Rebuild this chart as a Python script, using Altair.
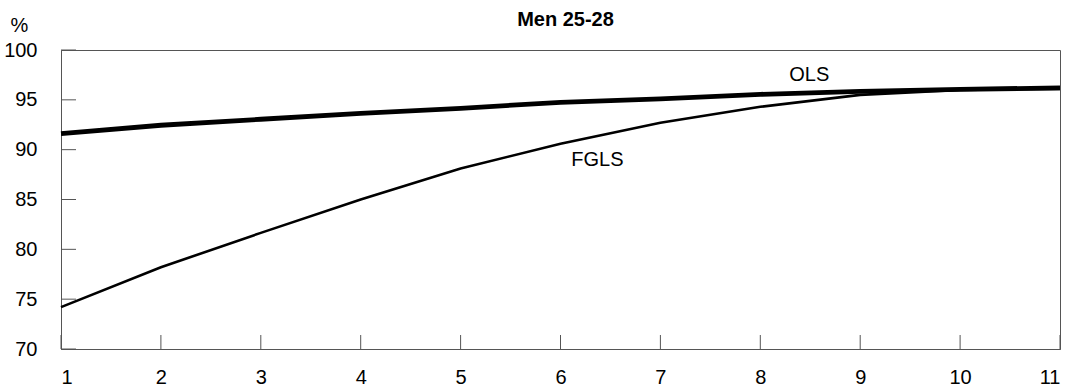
import altair as alt
import pandas as pd

x_vals = [1, 2, 3, 4, 5, 6, 7, 8, 9, 10, 11]
ols = [91.6, 92.45, 93.05, 93.65, 94.15, 94.75, 95.1, 95.55, 95.85, 96.05, 96.2]
fgls = [74.2, 78.2, 81.65, 85.0, 88.1, 90.6, 92.7, 94.3, 95.5, 96.0, 96.1]
y_ticks = [70, 75, 80, 85, 90, 95, 100]
x_ticks = x_vals
labels = ["OLS", "FGLS"]
label_x = [8.49, 6.37]
label_y = [97.5, 89.0]

FONT = "Liberation Sans"
FS = 20
W, H = 999, 299

df = pd.DataFrame({"x": x_vals * 2, "y": ols + fgls,
                   "series": ["OLS"] * len(x_vals) + ["FGLS"] * len(x_vals)})
df_yt = pd.DataFrame({"y": y_ticks})
df_xt = pd.DataFrame({"x": x_ticks})
df_lab = pd.DataFrame({"text": labels, "x": label_x, "y": label_y})

xs = alt.Scale(domain=[1, 11], nice=False, zero=False)
ys = alt.Scale(domain=[70, 100], nice=False, zero=False)

x_axis = alt.Axis(values=x_ticks, format="d", ticks=False, tickSize=0, grid=False,
                  labelFont=FONT, labelFontSize=FS, labelColor="black",
                  labelPadding=18, domainColor="#555", title=None)
y_axis = alt.Axis(values=y_ticks, format="d", ticks=False, tickSize=0, grid=False,
                  labelFont=FONT, labelFontSize=FS, labelColor="black",
                  labelPadding=24, domainColor="#555",
                  title="%", titleAngle=0, titleFont=FONT, titleFontSize=FS,
                  titleFontWeight="normal", titleColor="black",
                  titleX=-42, titleY=-25, titleAlign="center", titleBaseline="middle")

fgls_line = alt.Chart(df[df.series == "FGLS"]).mark_line(
    color="black", strokeWidth=2.6).encode(
    x=alt.X("x:Q", scale=xs, axis=x_axis),
    y=alt.Y("y:Q", scale=ys, axis=y_axis))

ols_line = alt.Chart(df[df.series == "OLS"]).mark_line(
    color="black", strokeWidth=4.8).encode(
    x=alt.X("x:Q", scale=xs),
    y=alt.Y("y:Q", scale=ys))

ytick = alt.Chart(df_yt).mark_rule(color="#555", strokeWidth=1).encode(
    y=alt.Y("y:Q", scale=ys), x=alt.value(0), x2=alt.value(15))

xtick = alt.Chart(df_xt).mark_rule(color="#555", strokeWidth=1).encode(
    x=alt.X("x:Q", scale=xs), y=alt.value(H), y2=alt.value(H - 14))

text = alt.Chart(df_lab).mark_text(font=FONT, fontSize=FS, color="black",
                                   align="center", baseline="middle").encode(
    x=alt.X("x:Q", scale=xs), y=alt.Y("y:Q", scale=ys), text="text:N")

chart = alt.layer(ytick, xtick, fgls_line, ols_line, text).properties(
    width=W, height=H,
    title=alt.TitleParams("Men 25-28", font=FONT, fontSize=20, fontWeight="bold",
                          color="black", anchor="middle", baseline="alphabetic",
                          frame="group", offset=-31, dx=5),
    autosize=alt.AutoSizeParams(type="none"),
    padding={"left": 61, "top": 50, "right": 18, "bottom": 43},
    background="white",
).configure_view(stroke="#555", strokeWidth=1)

chart.save("out.html", embed_options={"renderer": "svg", "actions": False})
